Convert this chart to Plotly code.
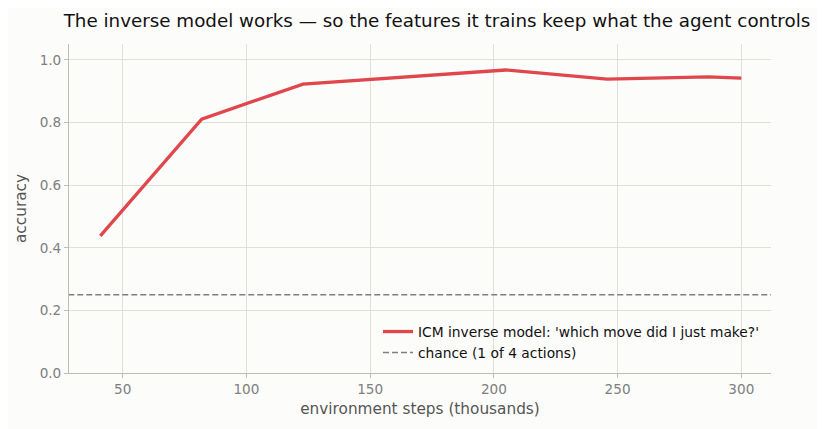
import plotly.graph_objects as go

# data =========================================================================
steps_k = [40.96, 81.92, 122.88, 163.84, 204.8, 245.76, 286.72, 300]
inverse_acc = [0.438, 0.811, 0.923, 0.945, 0.968, 0.939, 0.946, 0.942]
chance_level = 0.25
x_ticks = [50, 100, 150, 200, 250, 300]
y_ticks = [0.0, 0.2, 0.4, 0.6, 0.8, 1.0]

FONT = "DejaVu Sans"
BG = "#fcfcfa"

fig = go.Figure()
fig.add_trace(go.Scatter(
    x=steps_k, y=inverse_acc, mode="lines",
    line=dict(color="#e0474c", width=3.3),
    name="ICM inverse model: 'which move did I just make?'",
))
fig.add_trace(go.Scatter(
    x=[28, 312], y=[chance_level, chance_level], mode="lines",
    line=dict(color="#7f7f7f", width=1.5, dash="6px,3px"),
    name="chance (1 of 4 actions)",
))

fig.update_layout(
    width=825, height=429,
    paper_bgcolor=BG, plot_bgcolor=BG,
    font=dict(family=FONT, size=13, color="#555555"),
    title=dict(
        text="The inverse model works — so the features it trains keep what the agent controls",
        x=0.0675, xref="container", xanchor="left", y=0.985, yanchor="top",
        font=dict(family=FONT, size=18.3, color="#111111"),
    ),
    margin=dict(l=58, r=62, t=36, b=64),
    showlegend=True,
    legend=dict(
        x=0.99, y=0.015, xanchor="right", yanchor="bottom",
        bgcolor="rgba(0,0,0,0)", font=dict(size=13.8, color="#111111"),
        tracegroupgap=2,
    ),
    xaxis=dict(
        title=dict(text="environment steps (thousands)", font=dict(size=15.3, color="#555555"), standoff=6),
        range=[28.3, 312], tickvals=x_ticks, zeroline=False,
        showgrid=True, gridcolor="#e0e0d8", gridwidth=1,
        showline=True, linecolor="#bdbdb5", linewidth=1,
        ticks="outside", tickcolor="#bdbdb5", ticklen=4,
        tickfont=dict(size=13.6, color="#808080"),
    ),
    yaxis=dict(
        title=dict(text="accuracy", font=dict(size=15.3, color="#555555"), standoff=9),
        range=[0, 1.051], tickvals=y_ticks, tickformat=".1f", zeroline=False,
        showgrid=True, gridcolor="#e0e0d8", gridwidth=1,
        showline=True, linecolor="#bdbdb5", linewidth=1,
        ticks="outside", tickcolor="#bdbdb5", ticklen=4,
        tickfont=dict(size=13.6, color="#808080"),
    ),
)

fig.write_html("out.html")
